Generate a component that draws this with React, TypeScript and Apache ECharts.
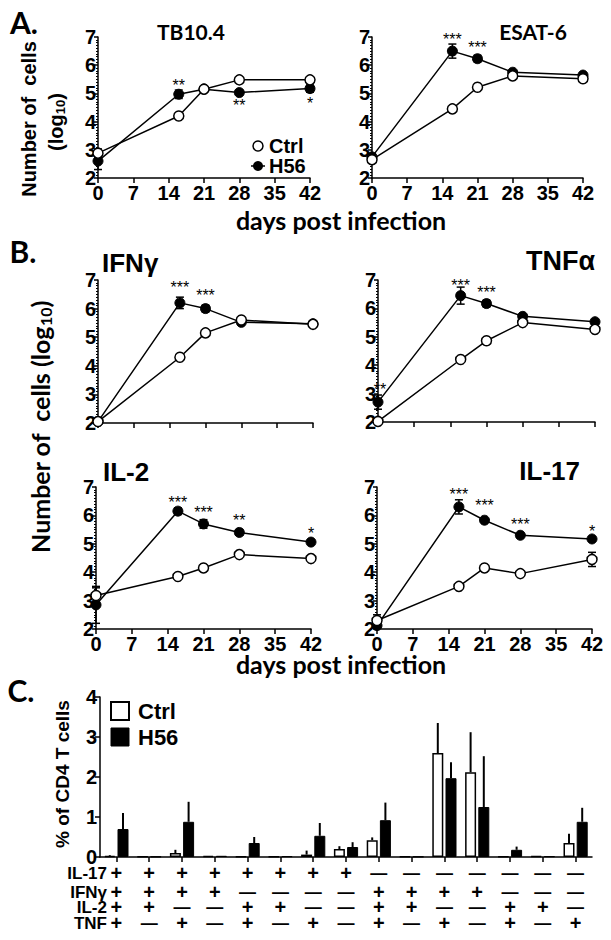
import React, { useEffect, useRef } from 'react';
import * as echarts from 'echarts';

// ---------- data ----------
const days = [0, 16, 21, 28, 42];

const tbCtrl = [2.88, 4.2, 5.15, 5.48, 5.48];
const tbCtrlErr = [0.15, 0.05, 0.04, 0.04, 0.04];
const tbH56 = [2.6, 4.97, 5.15, 5.03, 5.17];
const tbH56Err = [0.3, 0.15, 0.04, 0.05, 0.13];
const tbStars: [number, number, string][] = [[16, 5.42, '**'], [28, 4.72, '**'], [42, 4.78, '*']];

const esCtrl = [2.65, 4.45, 5.22, 5.62, 5.52];
const esCtrlErr = [0.05, 0.05, 0.05, 0.04, 0.04];
const esH56 = [2.75, 6.5, 6.23, 5.75, 5.65];
const esH56Err = [0.1, 0.25, 0.12, 0.05, 0.05];
const esStars: [number, number, string][] = [[16, 7.05, '***'], [21, 6.76, '***']];

const ifnCtrl = [2.05, 4.3, 5.15, 5.6, 5.45];
const ifnCtrlErr = [0.03, 0.05, 0.05, 0.04, 0.04];
const ifnH56 = [2.05, 6.2, 6.0, 5.52, 5.47];
const ifnH56Err = [0.05, 0.2, 0.12, 0.03, 0.03];
const ifnStars: [number, number, string][] = [[16, 6.88, '***'], [21, 6.61, '***']];

const tnfCtrl = [2.02, 4.2, 4.86, 5.5, 5.26];
const tnfCtrlErr = [0.03, 0.05, 0.1, 0.05, 0.05];
const tnfH56 = [2.7, 6.45, 6.17, 5.72, 5.53];
const tnfH56Err = [0.25, 0.3, 0.12, 0.05, 0.05];
const tnfStars: [number, number, string][] = [[0.4, 3.29, '**'], [16, 6.94, '***'], [21, 6.7, '***']];

const il2Ctrl = [3.18, 3.85, 4.15, 4.62, 4.48];
const il2CtrlErr = [0.27, 0.1, 0.1, 0.05, 0.05];
const il2H56 = [2.85, 6.15, 5.7, 5.4, 5.06];
const il2H56Err = [0.65, 0.12, 0.15, 0.1, 0.05];
const il2Stars: [number, number, string][] = [[16, 6.61, '***'], [21, 6.24, '***'], [28, 5.97, '**'], [42, 5.5, '*']];

const il17Ctrl = [2.3, 3.5, 4.15, 3.95, 4.45];
const il17CtrlErr = [0.2, 0.05, 0.05, 0.1, 0.25];
const il17H56 = [2.12, 6.3, 5.83, 5.3, 5.17];
const il17H56Err = [0.05, 0.25, 0.05, 0.05, 0.05];
const il17Stars: [number, number, string][] = [[16, 6.88, '***'], [21, 6.5, '***'], [28, 5.83, '***'], [42, 5.57, '*']];

// panel C
const barCtrl = [0.03, 0.01, 0.1, 0.03, 0.01, 0.01, 0.06, 0.2, 0.42, 0.01, 2.6, 2.12, 0.01, 0.02, 0.35];
const barCtrlErr = [0.02, 0, 0.08, 0, 0, 0, 0.1, 0.07, 0.07, 0, 0.75, 1.0, 0, 0, 0.23];
const barH56 = [0.7, 0.01, 0.88, 0.03, 0.35, 0.02, 0.53, 0.25, 0.92, 0.01, 1.97, 1.25, 0.18, 0.02, 0.88];
const barH56Err = [0.4, 0, 0.5, 0, 0.15, 0, 0.32, 0.12, 0.44, 0, 0.4, 1.27, 0.08, 0, 0.35];
const rowIL17 = ['+', '+', '+', '+', '+', '+', '+', '+', '-', '-', '-', '-', '-', '-', '-'];
const rowIFNg = ['+', '+', '+', '+', '-', '-', '-', '-', '+', '+', '+', '+', '-', '-', '-'];
const rowIL2 = ['+', '+', '-', '-', '+', '+', '-', '-', '+', '+', '-', '-', '+', '+', '-'];
const rowTNF = ['+', '-', '+', '-', '+', '-', '+', '-', '+', '-', '+', '-', '+', '-', '+'];
const rowNames = ['IL-17', 'IFNγ', 'IL-2', 'TNF'];

// ---------- styling ----------
const ARIAL = "'Liberation Sans', Arial, sans-serif";
const CAL = "Lato, 'Open Sans', sans-serif";

const linePanels = [
  { grid: { left: 98, top: 37, width: 212, height: 141 }, ctrl: tbCtrl, ctrlErr: tbCtrlErr, h56: tbH56, h56Err: tbH56Err, stars: tbStars, showX: true },
  { grid: { left: 372, top: 37, width: 211, height: 141 }, ctrl: esCtrl, ctrlErr: esCtrlErr, h56: esH56, h56Err: esH56Err, stars: esStars, showX: true },
  { grid: { left: 98, top: 280, width: 215, height: 143 }, ctrl: ifnCtrl, ctrlErr: ifnCtrlErr, h56: ifnH56, h56Err: ifnH56Err, stars: ifnStars, showX: false },
  { grid: { left: 378, top: 280, width: 217, height: 142 }, ctrl: tnfCtrl, ctrlErr: tnfCtrlErr, h56: tnfH56, h56Err: tnfH56Err, stars: tnfStars, showX: false },
  { grid: { left: 96, top: 487, width: 215, height: 142 }, ctrl: il2Ctrl, ctrlErr: il2CtrlErr, h56: il2H56, h56Err: il2H56Err, stars: il2Stars, showX: true },
  { grid: { left: 377, top: 487, width: 215, height: 142 }, ctrl: il17Ctrl, ctrlErr: il17CtrlErr, h56: il17H56, h56Err: il17H56Err, stars: il17Stars, showX: true },
];

const errRender = (params: any, api: any) => {
  const x = api.value(0);
  const y = api.value(1);
  const e = api.value(2);
  const t = api.coord([x, y + e]);
  const b = api.coord([x, y - e]);
  const cw = 4;
  const st = { stroke: '#000', lineWidth: 1.5 };
  return {
    type: 'group',
    children: [
      { type: 'line', shape: { x1: t[0], y1: t[1], x2: b[0], y2: b[1] }, style: st },
      { type: 'line', shape: { x1: t[0] - cw, y1: t[1], x2: t[0] + cw, y2: t[1] }, style: st },
      { type: 'line', shape: { x1: b[0] - cw, y1: b[1], x2: b[0] + cw, y2: b[1] }, style: st },
    ],
  };
};

const starRender = (stars: [number, number, string][]) => (params: any, api: any) => {
  const s = stars[params.dataIndex];
  const c = api.coord([api.value(0), api.value(1)]);
  return {
    type: 'text', x: c[0], y: c[1] + 4,
    style: { text: s[2], fill: '#000', fontSize: 16, fontFamily: ARIAL, align: 'center', verticalAlign: 'middle' },
  };
};

const barErrRender = (dx: number) => (params: any, api: any) => {
  const i = api.value(0);
  const v = api.value(1);
  const e = api.value(2);
  if (!(e > 0)) return { type: 'group', children: [] };
  const t = api.coord([i, v + e]);
  const b = api.coord([i, v]);
  return {
    type: 'line',
    shape: { x1: t[0] + dx, y1: t[1], x2: b[0] + dx, y2: b[1] },
    style: { stroke: '#000', lineWidth: 2 },
  };
};

const axisLine = { show: true, lineStyle: { color: '#000', width: 1.5 } };
const tickLabel = { color: '#000', fontFamily: ARIAL, fontWeight: 'bold' as const, fontSize: 20 };

function buildOption() {
  const grids: any[] = [];
  const xAxes: any[] = [];
  const yAxes: any[] = [];
  const series: any[] = [];

  linePanels.forEach((p, i) => {
    grids.push({ ...p.grid, containLabel: false });
    xAxes.push({
      gridIndex: i, type: 'value', min: 0, max: 42, interval: 7,
      axisLine, axisTick: { show: true, length: 5, lineStyle: { color: '#000', width: 1.5 } },
      splitLine: { show: false },
      axisLabel: { show: p.showX, margin: 5, ...tickLabel },
    });
    yAxes.push({
      gridIndex: i, type: 'value', min: 2, max: 7, interval: 1,
      axisLine, axisTick: { show: true, length: 4, lineStyle: { color: '#000', width: 1.5 } },
      minorTick: { show: true, splitNumber: 10, length: 2, lineStyle: { color: '#000', width: 1 } },
      splitLine: { show: false },
      axisLabel: { margin: 2, ...tickLabel },
    });
    series.push({
      type: 'custom', xAxisIndex: i, yAxisIndex: i, renderItem: errRender, clip: false, silent: true, z: 2,
      encode: { x: 0, y: 1 },
      data: days.map((d, k) => [d, p.h56[k], p.h56Err[k]]),
    });
    series.push({
      type: 'custom', xAxisIndex: i, yAxisIndex: i, renderItem: errRender, clip: false, silent: true, z: 2,
      encode: { x: 0, y: 1 },
      data: days.map((d, k) => [d, p.ctrl[k], p.ctrlErr[k]]),
    });
    series.push({
      name: 'H56', type: 'line', xAxisIndex: i, yAxisIndex: i, clip: false, z: 3,
      data: days.map((d, k) => [d, p.h56[k]]),
      symbol: 'circle', symbolSize: 10,
      lineStyle: { color: '#000', width: 1.5 },
      itemStyle: { color: '#000', borderColor: '#000', borderWidth: 1 },
    });
    series.push({
      name: 'Ctrl', type: 'line', xAxisIndex: i, yAxisIndex: i, clip: false, z: 4,
      data: days.map((d, k) => [d, p.ctrl[k]]),
      symbol: 'circle', symbolSize: 10,
      lineStyle: { color: '#000', width: 1.5 },
      itemStyle: { color: '#fff', borderColor: '#000', borderWidth: 1.5 },
    });
    series.push({
      type: 'custom', xAxisIndex: i, yAxisIndex: i, clip: false, silent: true, z: 5,
      renderItem: starRender(p.stars), encode: { x: 0, y: 1 },
      data: p.stars.map((s) => [s[0], s[1]]),
    });
  });

  // panel C
  const gi = linePanels.length;
  grids.push({ left: 100, top: 697, width: 492, height: 160 });
  const cats = barCtrl.map((_, i) => String(i));
  xAxes.push({
    gridIndex: gi, type: 'category', data: cats,
    axisLine, axisTick: { show: true, alignWithLabel: true, length: 5, lineStyle: { color: '#000', width: 1.5 } },
    axisLabel: { show: false },
  });
  yAxes.push({
    gridIndex: gi, type: 'value', min: 0, max: 4, interval: 1,
    axisLine, axisTick: { show: true, length: 5, lineStyle: { color: '#000', width: 1.5 } },
    splitLine: { show: false },
    axisLabel: { margin: 3, ...tickLabel },
  });
  const rows = [rowIL17, rowIFNg, rowIL2, rowTNF];
  const offsets = [16, 35, 50, 66];
  rows.forEach((r, ri) => {
    xAxes.push({
      gridIndex: gi, type: 'category', data: cats, position: 'bottom', offset: offsets[ri],
      axisLine: { show: false }, axisTick: { show: false },
      axisLabel: {
        show: true, interval: 0, margin: 0, verticalAlign: 'middle', lineHeight: 13,
        formatter: (v: string) => (r[Number(v)] === '+' ? '{p|+}' : '{m|—}'),
        rich: {
          p: { fontSize: 20, lineHeight: 13, fontWeight: 'bold', fontFamily: ARIAL, color: '#000' },
          m: { fontSize: 17, lineHeight: 13, fontWeight: 'bold', fontFamily: ARIAL, color: '#000' },
        },
      },
    });
  });
  series.push({
    name: 'Ctrl', type: 'bar', xAxisIndex: gi, yAxisIndex: gi, data: barCtrl,
    barWidth: 11, barGap: '20%',
    itemStyle: { color: '#fff', borderColor: '#000', borderWidth: 1.5 },
  });
  series.push({
    name: 'H56', type: 'bar', xAxisIndex: gi, yAxisIndex: gi, data: barH56,
    barWidth: 11, barGap: '20%',
    itemStyle: { color: '#000', borderColor: '#000', borderWidth: 1 },
  });
  series.push({
    type: 'custom', xAxisIndex: gi, yAxisIndex: gi, renderItem: barErrRender(-6.6), clip: false, silent: true, z: 3,
    encode: { x: 0, y: 1 }, data: barCtrl.map((v, i) => [i, v, barCtrlErr[i]]),
  });
  series.push({
    type: 'custom', xAxisIndex: gi, yAxisIndex: gi, renderItem: barErrRender(6.6), clip: false, silent: true, z: 3,
    encode: { x: 0, y: 1 }, data: barH56.map((v, i) => [i, v, barH56Err[i]]),
  });

  const txt = (text: string, x: number, y: number, font: string, size: number, extra: any = {}) => ({
    type: 'text', x, y, rotation: extra.rotation || 0, silent: true,
    style: {
      text, fill: '#000', fontFamily: font, fontSize: size, fontWeight: 'bold',
      align: extra.align || 'center', verticalAlign: 'middle', rich: extra.rich,
      lineHeight: extra.lineHeight,
    },
  });
  const sub = { s: { fontSize: 13, fontWeight: 'bold', fontFamily: ARIAL, padding: [9, 0, 0, 0] } };

  const graphics: any[] = [
    txt('A.', 24, 22, CAL, 30),
    txt('TB10.4', 191, 31, CAL, 21),
    txt('ESAT-6', 533, 31, CAL, 21),
    txt('Number of  cells', 29, 119, ARIAL, 20, { rotation: Math.PI / 2 }),
    txt('(log{s|10})', 56, 122, ARIAL, 20, { rotation: Math.PI / 2, rich: sub }),
    { type: 'line', silent: true, shape: { x1: 251, y1: 166, x2: 265, y2: 166 }, style: { stroke: '#000', lineWidth: 1.5 } },
    { type: 'circle', silent: true, shape: { cx: 258, cy: 166, r: 5 }, style: { fill: '#000' } },
    { type: 'circle', silent: true, shape: { cx: 258, cy: 146, r: 5 }, style: { fill: '#fff', stroke: '#000', lineWidth: 1.5 } },
    txt('Ctrl', 269, 146, ARIAL, 20, { align: 'left' }),
    txt('H56', 269, 166, ARIAL, 20, { align: 'left' }),
    txt('days post infection', 341, 220, CAL, 25),
    txt('B.', 23, 251, CAL, 30),
    txt('IFNγ', 102, 263, ARIAL, 26, { align: 'left' }),
    txt('TNFα', 595, 261, ARIAL, 27, { align: 'right' }),
    txt('IL-2', 103, 472, ARIAL, 26, { align: 'left' }),
    txt('IL-17', 580, 471, ARIAL, 26, { align: 'right' }),
    txt('Number of  cells (log{s|10})', 40, 427, CAL, 25, {
      rotation: Math.PI / 2,
      rich: { s: { fontSize: 16, fontWeight: 'bold', fontFamily: CAL, padding: [10, 0, 0, 0] } },
    }),
    txt('days post infection', 341, 664, CAL, 25),
    txt('C.', 21, 690, CAL, 30),
    txt('% of CD4 T cells', 62, 774, ARIAL, 19, { rotation: Math.PI / 2 }),
    { type: 'rect', silent: true, shape: { x: 111, y: 702, width: 18, height: 18 }, style: { fill: '#fff', stroke: '#000', lineWidth: 2 } },
    { type: 'rect', silent: true, shape: { x: 111, y: 728, width: 18, height: 18 }, style: { fill: '#000', stroke: '#000', lineWidth: 1 } },
    txt('Ctrl', 138, 711, ARIAL, 22, { align: 'left' }),
    txt('H56', 138, 737, ARIAL, 22, { align: 'left' }),
  ];
  const rowY = [873, 892, 907, 923];
  rowNames.forEach((n, k) => graphics.push(txt(n, 107, rowY[k], ARIAL, 17, { align: 'right', lineHeight: 13 })));

  return {
    animation: false,
    backgroundColor: '#fff',
    grid: grids,
    xAxis: xAxes,
    yAxis: yAxes,
    series,
    graphic: { elements: graphics },
  };
}

export default function App() {
  const ref = useRef<HTMLDivElement>(null);
  useEffect(() => {
    if (!ref.current) return;
    const chart = echarts.init(ref.current, undefined, { renderer: 'svg' });
    chart.setOption(buildOption() as any);
    return () => chart.dispose();
  }, []);
  return <div ref={ref} style={{ position: 'absolute', left: 0, top: 0, width: 611, height: 940, background: '#fff' }} />;
}
